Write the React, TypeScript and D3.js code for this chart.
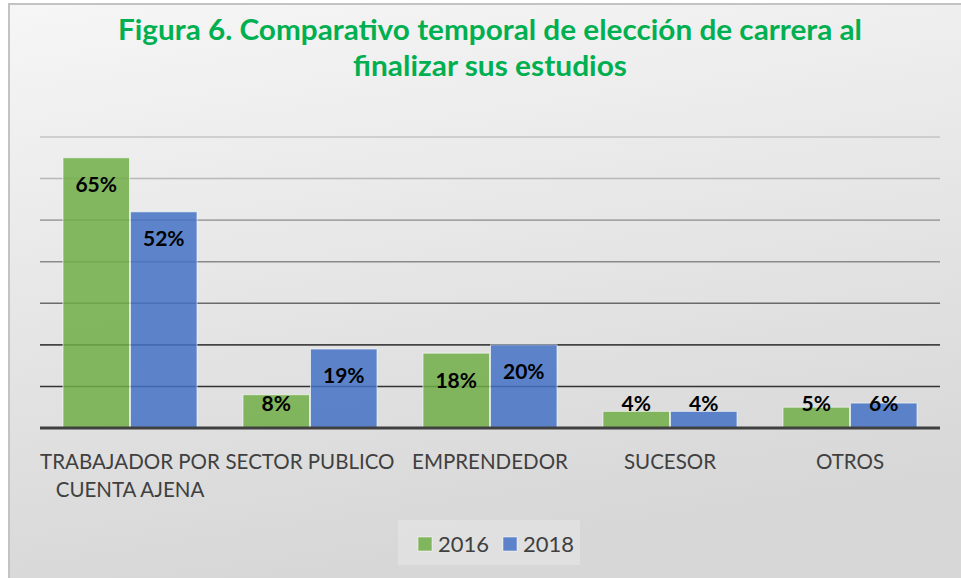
import React from "react";
import * as d3 from "d3";

const categories: string[][] = [
  ["TRABAJADOR POR", "CUENTA AJENA"],
  ["SECTOR PUBLICO"],
  ["EMPRENDEDOR"],
  ["SUCESOR"],
  ["OTROS"],
];
const series = ["2016", "2018"];
const values2016 = [65, 8, 18, 4, 5];
const values2018 = [52, 19, 20, 4, 6];
const yTicks = [0, 10, 20, 30, 40, 50, 60, 70];
const titleLines = [
  "Figura 6. Comparativo temporal de elección de carrera al",
  "finalizar sus estudios",
];

const W = 961;
const H = 578;
const colors = ["#70ad47", "#4472c4"];
const gridColors = ["#3a3a3a", "#333", "#444", "#6a6a6a", "#8a8a8a", "#a4a4a4", "#b8b8b8", "#c4c4c4"];

export default function App() {
  const x0 = d3
    .scaleBand<number>()
    .domain(categories.map((_, i) => i))
    .range([40, 940])
    .paddingInner(0)
    .paddingOuter(0);
  const x1 = d3
    .scaleBand<string>()
    .domain(series)
    .range([23, x0.bandwidth() - 23])
    .paddingInner(0.015);
  const y = d3.scaleLinear().domain([0, 70]).range([428, 137]);
  const font = "Lato, 'Open Sans', sans-serif";
  const data = [values2016, values2018];

  return (
    <svg
      width={W}
      height={H}
      style={{ position: "absolute", left: 0, top: 0 }}
      fontFamily={font}
    >
      <defs>
        <linearGradient id="bg" x1="0" y1="0" x2="0.25" y2="1">
          <stop offset="0" stopColor="#f6f6f6" />
          <stop offset="1" stopColor="#d7d7d7" />
        </linearGradient>
      </defs>
      <rect x={0} y={0} width={W} height={H} fill="#ffffff" />
      <rect x={9} y={4} width={W} height={H} fill="url(#bg)" stroke="#c3c3c3" strokeWidth={2} />
      {titleLines.map((t, i) => (
        <text
          key={i}
          x={490}
          y={40 + i * 36}
          textAnchor="middle"
          fill="#00b050"
          fontWeight="bold"
          fontSize={29}
          textLength={i === 0 ? 744 : 274}
          lengthAdjust="spacingAndGlyphs"
        >
          {t}
        </text>
      ))}
      {yTicks.slice(1).map((v, i) => (
        <line
          key={v}
          x1={40}
          x2={940}
          y1={y(v)}
          y2={y(v)}
          stroke={gridColors[i + 1]}
          strokeWidth={1.6}
        />
      ))}
      {categories.map((_, ci) => (
        <g key={ci} transform={`translate(${x0(ci)},0)`}>
          {series.map((s, si) => {
            const v = data[si][ci];
            const top = y(v);
            return (
              <rect
                key={s}
                x={x1(s)}
                y={top}
                width={x1.bandwidth()}
                height={y(0) - top}
                fill={colors[si]}
                fillOpacity={0.85}
                stroke="#ffffff"
                strokeOpacity={0.6}
                strokeWidth={1}
              />
            );
          })}
          {series.map((s, si) => {
            const v = data[si][ci];
            const top = y(v);
            const cy = Math.min(top + 27, y(0) - 24);
            return (
              <text
                key={s}
                x={(x1(s) as number) + x1.bandwidth() / 2}
                y={cy}
                dy="0.35em"
                textAnchor="middle"
                fontWeight="bold"
                fontSize={21}
                fill="#000"
              >
                {v}%
              </text>
            );
          })}
        </g>
      ))}
      <line x1={40} x2={940} y1={y(0)} y2={y(0)} stroke="#404040" strokeWidth={3} />
      {categories.map((lines, ci) => (
        <text
          key={ci}
          x={(x0(ci) as number) + x0.bandwidth() / 2}
          textAnchor="middle"
          fontSize={20.5}
          fill="#404040"
        >
          {lines.map((l, li) => (
            <tspan key={li} x={(x0(ci) as number) + x0.bandwidth() / 2} y={469 + li * 28}>
              {l}
            </tspan>
          ))}
        </text>
      ))}
      <rect x={398} y={520} width={182} height={45} fill="#e6e6e6" opacity={0.6} />
      {series.map((s, si) => (
        <g key={s} transform={`translate(${418 + si * 85},0)`}>
          <rect x={0} y={537} width={14} height={14} fill={colors[si]} fillOpacity={0.85} stroke="#fff" strokeOpacity={0.5} />
          <text x={20} y={552} fontSize={22} fill="#404040">
            {s}
          </text>
        </g>
      ))}
    </svg>
  );
}
